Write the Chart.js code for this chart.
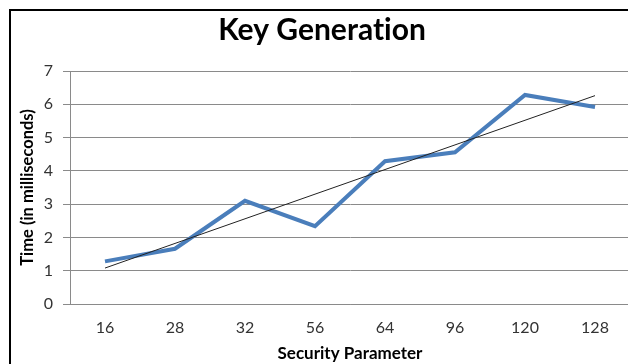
<!DOCTYPE html>
<html>
<head>
<meta charset="utf-8">
<script src="https://cdn.jsdelivr.net/npm/chart.js@4/dist/chart.umd.min.js"></script>
<style>
  html, body { margin: 0; padding: 0; background: #fff; overflow: hidden; }
  #wrap { position: relative; width: 628px; height: 364px; overflow: hidden; }
  #frame {
    position: absolute; left: 9px; top: 9px; width: 700px; height: 400px;
    border-left: 2px solid #000; border-top: 2px solid #000; pointer-events: none; z-index: 2;
  }
  #c { position: absolute; left: 0; top: 0; }
</style>
</head>
<body>
<div id="wrap">
  <div id="frame"></div>
  <canvas id="c" width="630" height="364"></canvas>
</div>
<script>
// Security parameter categories and measured key generation times (ms)
const categories = ['16', '28', '32', '56', '64', '96', '120', '128'];
const keyGenTimes = [1.28, 1.66, 3.10, 2.34, 4.29, 4.56, 6.28, 5.92];
// Linear trendline: values at the first and last category
const trendStart = 1.08;
const trendEnd = 6.26;
const trendValues = categories.map((_, i) =>
  i === 0 ? trendStart : (i === categories.length - 1 ? trendEnd : null));

const FONT = 'Lato, "Open Sans", sans-serif';
const GRID = '#8a8a8a';

// Plain glyphs (no "ti" ligature) for all canvas text
const plainText = {
  id: 'plainText',
  beforeDraw(chart) { chart.ctx.textRendering = 'optimizeSpeed'; }
};

new Chart(document.getElementById('c'), {
  type: 'line',
  plugins: [plainText],
  data: {
    labels: categories,
    datasets: [
      {
        label: 'Key Generation',
        data: keyGenTimes,
        borderColor: '#4A7EBB',
        borderWidth: 4,
        pointRadius: 0,
        tension: 0,
        order: 2
      },
      {
        label: 'Linear (Key Generation)',
        data: trendValues,
        spanGaps: true,
        borderColor: '#222',
        borderWidth: 1,
        pointRadius: 0,
        tension: 0,
        order: 1
      }
    ]
  },
  options: {
    responsive: false,
    animation: false,
    layout: { padding: { left: 14, right: 0, top: 0, bottom: 0 } },
    plugins: {
      legend: { display: false },
      tooltip: { enabled: false },
      title: {
        display: true,
        text: 'Key Generation',
        color: '#000',
        font: { family: FONT, size: 30, weight: 'bold', lineHeight: 1.2 },
        padding: { top: 12, bottom: 23 }
      }
    },
    scales: {
      x: {
        offset: true,
        grid: { display: false, drawTicks: false },
        border: { display: true, color: GRID, width: 1 },
        ticks: { color: '#333', font: { family: FONT, size: 16 }, padding: 14, maxRotation: 0 },
        title: {
          display: true,
          text: 'Security Parameter',
          color: '#000',
          font: { family: FONT, size: 17, weight: 'bold', lineHeight: 1.2 },
          padding: { top: 0, bottom: 0 }
        },
        afterFit(scale) { scale.height = 60; }
      },
      y: {
        min: 0,
        max: 7,
        ticks: { stepSize: 1, color: '#333', font: { family: FONT, size: 16 }, padding: 10 },
        grid: { color: GRID, lineWidth: 1, drawTicks: true, tickLength: 7 },
        border: { display: true, color: GRID, width: 1 },
        title: {
          display: true,
          text: 'Time (in milliseconds)',
          color: '#000',
          font: { family: FONT, size: 16.5, weight: 'bold', lineHeight: 1.2 },
          padding: { top: 4, bottom: 0 }
        },
        afterFit(scale) { scale.width = 56; }
      }
    }
  }
});
</script>
</body>
</html>
